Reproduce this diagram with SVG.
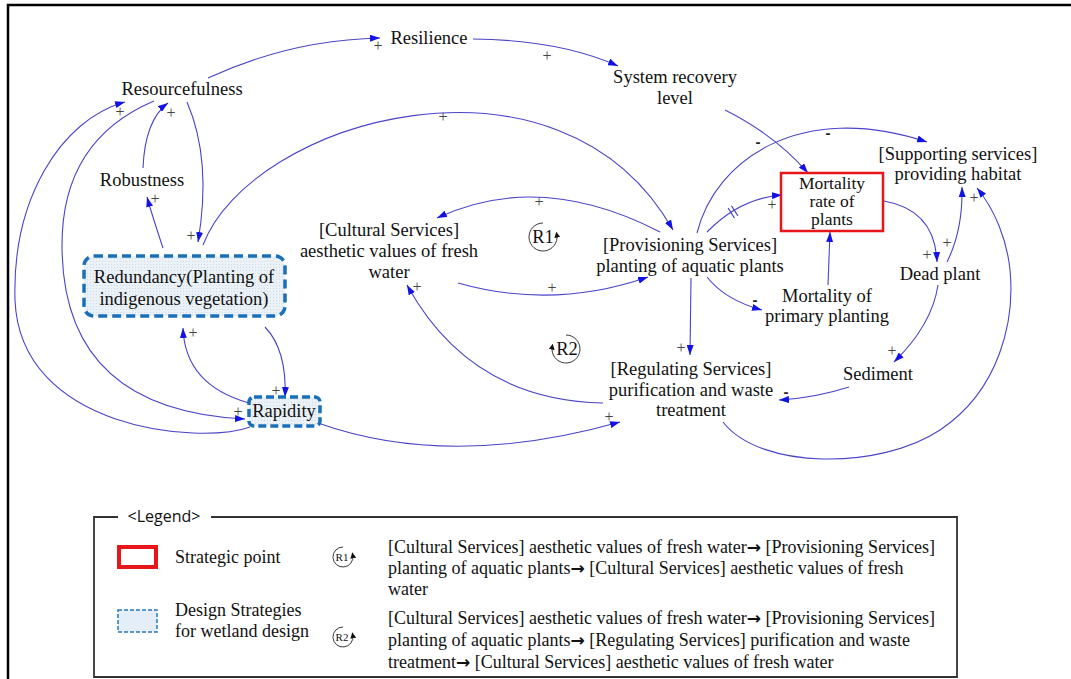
<svg xmlns="http://www.w3.org/2000/svg" width="1071" height="679" viewBox="0 0 1071 679">
<style>
  .t { font-size: 18.5px; fill: #111; text-anchor: middle; }
  .lt { font-size: 18px; fill: #111; }
  .ar { font-family: 'DejaVu Sans', sans-serif; font-weight: bold; font-size: 17px; }
  .c { fill: none; stroke: #4a44c8; stroke-width: 1.1; marker-end: url(#ah); }
  .p { font-size: 16px; fill: #444; text-anchor: middle; }
  .m { font-family: 'Liberation Sans', Arial, sans-serif; font-size: 15px; fill: #222; text-anchor: middle; font-weight: bold; }
  .loop { fill: none; stroke: #222; stroke-width: 0.9; }
</style>
<defs>
  <marker id="ah" viewBox="0 0 10 7" refX="10" refY="3.5" markerWidth="10" markerHeight="7" markerUnits="userSpaceOnUse" orient="auto">
    <path d="M0,0 L10,3.5 L0,7 z" fill="#1212e6"/>
  </marker>
  <marker id="la" viewBox="0 0 6 6" refX="3" refY="3" markerWidth="6" markerHeight="6" markerUnits="userSpaceOnUse" orient="auto">
    <path d="M0,0 L6,3 L0,6 z" fill="#111"/>
  </marker>
  <pattern id="grid" width="3" height="3" patternUnits="userSpaceOnUse">
    <rect width="3" height="3" fill="#eaf1f7"/>
    <rect width="1" height="1" fill="#cfdbe6"/>
  </pattern>
</defs>

<!-- outer frame -->
<path d="M8,679 L8,5 L1071,5" fill="none" stroke="#000" stroke-width="2.5"/>

<g font-family="Liberation Serif, Times New Roman, DejaVu Serif, serif">
<g id="connectors">
  <path class="c" d="M208,78 Q290,40 380,38"/>
  <path class="c" d="M473,39 Q560,40 618,66"/>
  <path class="c" d="M143,168 Q145,120 168,103"/>
  <path class="c" d="M163,248 Q152,215 147,197"/>
  <path class="c" d="M187,102 Q212,160 198,242"/>
  <path class="c" d="M154,101 Q62,140 62,245 Q62,410 245,419"/>
  <path class="c" d="M250,427 C200,445 20,430 15,300 C12,200 60,120 125,102"/>
  <path class="c" d="M203,245 C250,120 560,30 673,230"/>
  <path class="c" d="M660,232 Q540,170 437,218"/>
  <path class="c" d="M458,283 Q553,310 648,277"/>
  <path class="c" d="M603,403 Q470,400 407,285"/>
  <path class="c" d="M318,423 Q450,470 620,422"/>
  <path class="c" d="M265,327 Q287,350 285,397"/>
  <path class="c" d="M249,403 Q185,385 183,328"/>
  <path class="c" d="M725,110 Q775,135 808,173"/>
  <path class="c" d="M697,233 C715,160 800,100 927,142"/>
  <path class="c" d="M707,232 Q740,198 782,195"/>
  <path d="M728.1,208.1 L734.5,218.1 M731.5,205.9 L737.9,215.9" stroke="#4a44c8" stroke-width="1.1" fill="none"/>
  <path class="c" d="M828,285 Q829,260 830,232"/>
  <path class="c" d="M707,277 Q725,300 762,310"/>
  <path class="c" d="M691,278 L690,355"/>
  <path class="c" d="M884,201 Q935,210 937,262"/>
  <path class="c" d="M947,262 Q963,230 962,187"/>
  <path class="c" d="M723,422 C760,470 880,470 940,430 C1000,390 1015,320 1010,270 C1007,240 995,210 977,188"/>
  <path class="c" d="M849,387 Q815,398 779,400"/>
  <path class="c" d="M938,285 Q932,325 894,362"/>

  <text class="p" x="378" y="51">+</text>
  <text class="p" x="547" y="61">+</text>
  <text class="p" x="171" y="118">+</text>
  <text class="p" x="120" y="117">+</text>
  <text class="p" x="155" y="204">+</text>
  <text class="p" x="191" y="241">+</text>
  <text class="p" x="443" y="122">+</text>
  <text class="p" x="539" y="207">+</text>
  <text class="p" x="552" y="293">+</text>
  <text class="p" x="417" y="292">+</text>
  <text class="p" x="609" y="422">+</text>
  <text class="p" x="276" y="396">+</text>
  <text class="p" x="193" y="338">+</text>
  <text class="p" x="238" y="417">+</text>
  <text class="p" x="772" y="210">+</text>
  <text class="p" x="681" y="353">+</text>
  <text class="p" x="927" y="260">+</text>
  <text class="p" x="947" y="248">+</text>
  <text class="p" x="974" y="203">+</text>
  <text class="p" x="892" y="356">+</text>
  <text class="m" x="758" y="147">-</text>
  <text class="m" x="828" y="138">-</text>
  <text class="m" x="755" y="305">-</text>
  <text class="m" x="786" y="397">-</text>
</g>

<g id="loop-R1">
  <path class="loop" d="M543,223 A14,14 0 1 0 556.8,234.6" marker-end="url(#la)"/>
  <text class="t" x="543" y="243" font-size="17">R1</text>
</g>
<g id="loop-R2">
  <path class="loop" d="M566,335 A14,14 0 1 1 552.2,346.6" marker-end="url(#la)"/>
  <text class="t" x="567" y="355" font-size="17">R2</text>
</g>

<g id="node-resilience"><text class="t" x="429" y="44">Resilience</text></g>
<g id="node-system-recovery"><text class="t" x="675" y="83">System recovery</text><text class="t" x="675" y="104">level</text></g>
<g id="node-resourcefulness"><text class="t" x="182" y="95">Resourcefulness</text></g>
<g id="node-robustness"><text class="t" x="142" y="186">Robustness</text></g>
<g id="node-redundancy">
  <rect x="84" y="256" width="201" height="60" rx="10" fill="url(#grid)" stroke="#1a70b8" stroke-width="3.5" stroke-dasharray="9 5"/>
  <text class="t" x="184" y="283" fill="#333">Redundancy(Planting of</text>
  <text class="t" x="184" y="305" fill="#333">indigenous vegetation)</text>
</g>
<g id="node-rapidity">
  <rect x="249" y="397" width="71" height="29" rx="5" fill="url(#grid)" stroke="#1a70b8" stroke-width="3.5" stroke-dasharray="8 4"/>
  <text class="t" x="284" y="417" fill="#333">Rapidity</text>
</g>
<g id="node-cultural">
  <text class="t" x="389" y="236">[Cultural Services]</text>
  <text class="t" x="389" y="257">aesthetic values of fresh</text>
  <text class="t" x="389" y="278">water</text>
</g>
<g id="node-provisioning">
  <text class="t" x="690" y="251">[Provisioning Services]</text>
  <text class="t" x="690" y="272">planting of aquatic plants</text>
</g>
<g id="node-regulating">
  <text class="t" x="691" y="375">[Regulating Services]</text>
  <text class="t" x="691" y="396">purification and waste</text>
  <text class="t" x="691" y="416">treatment</text>
</g>
<g id="node-mortality-rate">
  <rect x="781" y="173" width="102" height="58" fill="#fff" stroke="#e8161b" stroke-width="2.5"/>
  <text class="t" x="832" y="189" style="font-size:17.5px">Mortality</text>
  <text class="t" x="832" y="207" style="font-size:17.5px">rate of</text>
  <text class="t" x="832" y="225" style="font-size:17.5px">plants</text>
</g>
<g id="node-supporting">
  <text class="t" x="958" y="160">[Supporting services]</text>
  <text class="t" x="958" y="180">providing habitat</text>
</g>
<g id="node-dead-plant"><text class="t" x="940" y="280">Dead plant</text></g>
<g id="node-primary-planting">
  <text class="t" x="827" y="302">Mortality of</text>
  <text class="t" x="827" y="322">primary planting</text>
</g>
<g id="node-sediment"><text class="t" x="878" y="380">Sediment</text></g>

<g id="legend">
  <path d="M118,517 L94,517 L94,677 L957,677 L957,517 L211,517" fill="none" stroke="#333" stroke-width="1.8"/>
  <text x="164" y="522" font-family="Open Sans, Liberation Sans, sans-serif" font-size="16" fill="#111" text-anchor="middle">&lt;Legend&gt;</text>
  <rect x="119" y="547" width="37" height="20" fill="#fff" stroke="#e8161b" stroke-width="4"/>
  <text class="lt" x="175" y="563">Strategic point</text>
  <rect x="118" y="610" width="39" height="22" fill="#e4eef8" stroke="#2a7ab8" stroke-width="1.5" stroke-dasharray="4 2"/>
  <text class="lt" x="175" y="616">Design Strategies</text>
  <text class="lt" x="175" y="637">for wetland design</text>
  <path class="loop" d="M343,547 A10,10 0 1 0 352.8,555.3" marker-end="url(#la)"/>
  <text x="342" y="561" font-size="11" fill="#111" text-anchor="middle">R1</text>
  <path class="loop" d="M343,627 A10,10 0 1 0 352.8,635.3" marker-end="url(#la)"/>
  <text x="342" y="641" font-size="11" fill="#111" text-anchor="middle">R2</text>
  <text class="lt" x="388" y="553">[Cultural Services] aesthetic values of fresh water<tspan class="ar">→</tspan> [Provisioning Services]</text>
  <text class="lt" x="388" y="574">planting of aquatic plants<tspan class="ar">→</tspan> [Cultural Services] aesthetic values of fresh</text>
  <text class="lt" x="388" y="595">water</text>
  <text class="lt" x="388" y="624">[Cultural Services] aesthetic values of fresh water<tspan class="ar">→</tspan> [Provisioning Services]</text>
  <text class="lt" x="388" y="646">planting of aquatic plants<tspan class="ar">→</tspan> [Regulating Services] purification and waste</text>
  <text class="lt" x="388" y="668">treatment<tspan class="ar">→</tspan> [Cultural Services] aesthetic values of fresh water</text>
</g>
</g>
</svg>
